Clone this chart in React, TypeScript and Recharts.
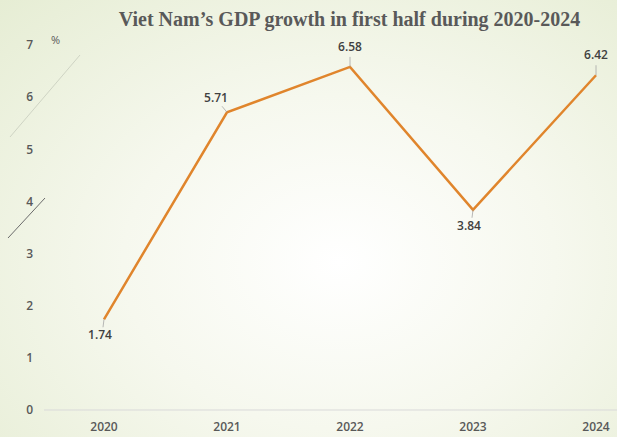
import { LineChart, Line, XAxis, YAxis, LabelList } from "recharts";

const years = ["2020", "2021", "2022", "2023", "2024"];
const growth = [1.74, 5.71, 6.58, 3.84, 6.42];
const yTicks = [0, 1, 2, 3, 4, 5, 6, 7];
// where each value label sits relative to its point
const labelSide = ["below", "aboveLeft", "above", "below", "above"];

const data = years.map((year, i) => ({ year, value: growth[i] }));

const FONT = "'Open Sans', 'DejaVu Sans', sans-serif";

function ValueLabel(props: any) {
  const { x, y, value, index } = props;
  const side = labelSide[index];
  let tx = x;
  let ty = y - 16;
  let lx = x;
  let ly = y - 10;
  if (side === "below") {
    tx = x - 4;
    ty = y + 20;
    lx = x - 1;
    ly = y + 8;
  } else if (side === "aboveLeft") {
    tx = x - 11;
    ty = y - 10;
    lx = x - 5;
    ly = y - 6;
  }
  return (
    <g>
      <line x1={x} y1={y} x2={lx} y2={ly} stroke="#a6a6a6" strokeWidth={0.8} />
      <text
        x={tx}
        y={ty}
        textAnchor="middle"
        fontFamily={FONT}
        fontSize={12}
        fontWeight={600}
        fill="#404040"
      >
        {value.toFixed(2)}
      </text>
    </g>
  );
}

export default function App() {
  return (
    <div
      style={{
        position: "absolute",
        left: 0,
        top: 0,
        width: 617,
        height: 437,
        background:
          "radial-gradient(ellipse at 55% 60%, #ffffff 0%, #f6f8ee 45%, #e6edd4 100%)",
      }}
    >
      <svg
        width={617}
        height={437}
        style={{ position: "absolute", left: 0, top: 0 }}
      >
        <line x1={10} y1={137} x2={80} y2={55} stroke="#cfd4c4" strokeWidth={1} />
        <line x1={8} y1={238} x2={45} y2={198} stroke="#6b6b6b" strokeWidth={1} />
      </svg>
      <div
        style={{
          position: "absolute",
          left: 0,
          top: 8,
          width: 617,
          textAlign: "center",
          paddingLeft: 82,
          boxSizing: "border-box",
          fontFamily: "'Liberation Serif', 'Times New Roman', serif",
          fontWeight: "bold",
          fontSize: 20,
          color: "#595959",
        }}
      >
        Viet Nam’s GDP growth in first half during 2020-2024
      </div>
      <div
        style={{
          position: "absolute",
          left: 51,
          top: 32,
          fontFamily: FONT,
          fontSize: 11,
          color: "#595959",
        }}
      >
        %
      </div>
      <div style={{ position: "absolute", left: 0, top: 0 }}>
        <LineChart
          width={617}
          height={437}
          data={data}
          margin={{ top: 45, right: 0, bottom: 0, left: 0 }}
        >
          <XAxis
            dataKey="year"
            height={27}
            padding={{ left: 60, right: 21 }}
            axisLine={{ stroke: "#d9d9d9" }}
            tickLine={false}
            tick={{ fill: "#595959", fontSize: 12, fontWeight: 600, fontFamily: FONT }}
            tickMargin={6}
          />
          <YAxis
            width={44}
            domain={[0, 7]}
            ticks={yTicks}
            axisLine={false}
            tickLine={false}
            tick={{ fill: "#595959", fontSize: 12, fontWeight: 600, fontFamily: FONT }}
            dx={-3}
          />
          <Line
            dataKey="value"
            stroke="#e0852c"
            strokeWidth={2.5}
            dot={false}
            isAnimationActive={false}
          >
            <LabelList dataKey="value" content={<ValueLabel />} />
          </Line>
        </LineChart>
      </div>
    </div>
  );
}
